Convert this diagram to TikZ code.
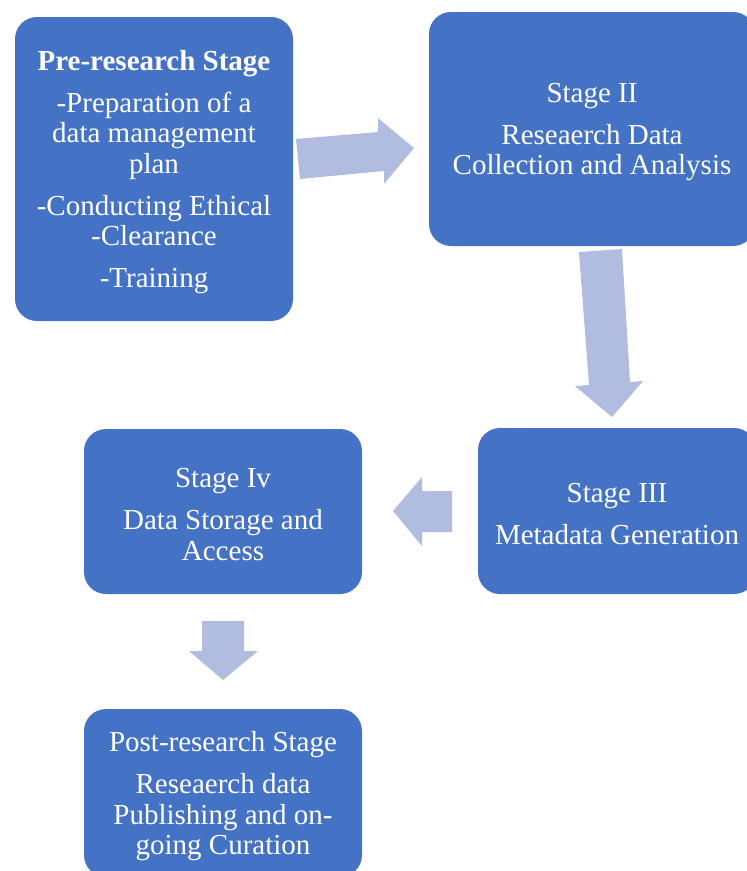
\documentclass[tikz,border=0pt]{standalone}
\usepackage{fontspec}
\setmainfont{Liberation Serif}
\definecolor{boxblue}{HTML}{4472C4}
\definecolor{arrowblue}{HTML}{B0BDE0}
\begin{document}
\begin{tikzpicture}[x=1pt,y=-1pt,
  stagebox/.style={fill=boxblue, rounded corners=22pt, inner sep=0pt},
  stagetext/.style={text=white, align=center, inner sep=0pt,
    font=\fontsize{29}{30.5}\selectfont},
  blockarrow/.style={fill=arrowblue}]
\useasboundingbox (0,0) rectangle (747,871);
\node[stagebox, minimum width=278pt, minimum height=304pt] (pre) at (154,169) {};
\node[stagetext] (pretext) at ([yshift=-3pt]pre.center)
  {\textbf{Pre-research Stage}\\[11.5pt] -Preparation of a\\ data management\\ plan\\[11.5pt] -Conducting Ethical\\ -Clearance\\[11.5pt] -Training};
\node[stagebox, minimum width=326pt, minimum height=234pt] (s2) at (592,129) {};
\node[stagetext] (s2text) at ([yshift=-3pt]s2.center)
  {Stage II\\[11.5pt] Reseaerch Data\\ Collection and Analysis};
\node[stagebox, minimum width=278pt, minimum height=166pt] (s3) at (617,511) {};
\node[stagetext] (s3text) at ([yshift=-3pt]s3.center)
  {Stage III\\[11.5pt] Metadata Generation};
\node[stagebox, minimum width=278pt, minimum height=165pt] (s4) at (223,511.5) {};
\node[stagetext] (s4text) at ([yshift=-3pt]s4.center)
  {Stage Iv\\[11.5pt] Data Storage and\\ Access};
\node[stagebox, minimum width=278pt, minimum height=168pt] (post) at (223,793) {};
\node[stagetext] (posttext) at ([yshift=-3.5pt]post.center)
  {Post-research Stage\\[11.5pt] Reseaerch data\\ Publishing and on-\\ going Curation};
% block arrows
\fill[blockarrow] (296,139) -- (378,132) -- (378,118) -- (414,148) -- (384,184) -- (384,171) -- (300,179) -- cycle;
\fill[blockarrow] (579,252) -- (622,249) -- (630,382) -- (643,381) -- (612,417) -- (575,386) -- (589,385) -- cycle;
\fill[blockarrow] (393,511) -- (422,477) -- (422,491) -- (452,491) -- (452,532) -- (422,532) -- (422,546) -- cycle;
\fill[blockarrow] (202,621) -- (244,621) -- (244,651) -- (258,651) -- (223,680) -- (189,651) -- (202,651) -- cycle;
\end{tikzpicture}
\end{document}
